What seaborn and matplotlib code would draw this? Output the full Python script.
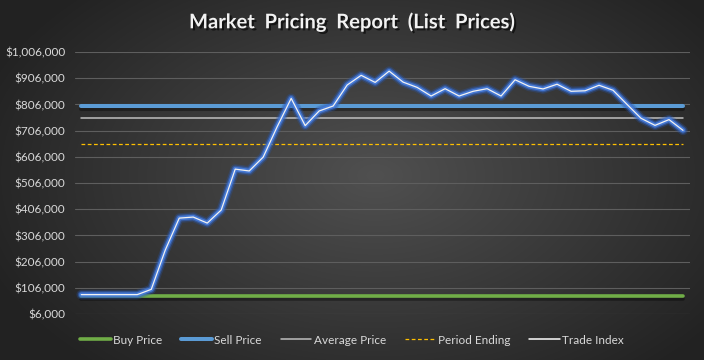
import numpy as np
import pandas as pd
import matplotlib
matplotlib.use("Agg")
import matplotlib.pyplot as plt
import matplotlib.patheffects as pe
from matplotlib.lines import Line2D
from matplotlib.ticker import FuncFormatter
import seaborn as sns

# ---- data ----
periods = list(range(44))
trade_index = [80000, 80000, 80000, 80000, 80000, 100000, 250000, 372000, 376000, 353000,
               403000, 559000, 552000, 605000, 721000, 829000, 725000, 781000, 800000, 880000,
               917000, 890000, 933000, 891000, 871000, 838000, 866000, 838000, 856000, 866000,
               838000, 900000, 875000, 865000, 883000, 856000, 858000, 879000, 860000, 806000,
               753000, 726000, 748000, 707000]
buy_price = 75000
sell_price = 801000
average_price = 756000
period_ending = 653000
y_ticks = [6000, 106000, 206000, 306000, 406000, 506000, 606000, 706000, 806000, 906000, 1006000]
title = "Market  Pricing  Report  (List  Prices)"
labels = ["Buy Price", "Sell Price", "Average Price", "Period Ending", "Trade Index"]

n = len(periods)
df = pd.DataFrame({
    "period": periods,
    "Buy Price": [buy_price] * n,
    "Sell Price": [sell_price] * n,
    "Average Price": [average_price] * n,
    "Period Ending": [period_ending] * n,
    "Trade Index": trade_index,
})

sns.set_theme(style="dark")
plt.rcParams["font.family"] = ["Lato", "DejaVu Sans"]

fig = plt.figure(figsize=(7.04, 3.60), dpi=100)

# radial gradient background
bg = fig.add_axes([0, 0, 1, 1], zorder=-10)
yy, xx = np.mgrid[0:360, 0:704]
r = np.sqrt(((xx - 375) / 420.0) ** 2 + ((yy - 175) / 260.0) ** 2)
r = np.clip(r, 0, 1)
c_in = np.array([0x50, 0x50, 0x50]) / 255.0
c_out = np.array([0x22, 0x22, 0x22]) / 255.0
img = c_in[None, None, :] * (1 - r[..., None]) + c_out[None, None, :] * r[..., None]
bg.imshow(img, aspect="auto", extent=[0, 1, 0, 1], origin="upper")
bg.axis("off")

ax = fig.add_axes([75 / 704, 1 - 314 / 360, (690 - 75) / 704, (314 - 52) / 360])
ax.set_facecolor("none")

shadow = [pe.SimpleLineShadow(offset=(0, -2.5), shadow_color="black", alpha=0.35), pe.Normal()]

sns.lineplot(data=df, x="period", y="Buy Price", ax=ax, color="#70ad47", linewidth=2.6,
             path_effects=shadow, zorder=3)
sns.lineplot(data=df, x="period", y="Sell Price", ax=ax, color="#5b9bd5", linewidth=2.9,
             path_effects=shadow, zorder=3)
sns.lineplot(data=df, x="period", y="Average Price", ax=ax, color="#bfbfbf", linewidth=1.1, zorder=3)
sns.lineplot(data=df, x="period", y="Period Ending", ax=ax, color="#ffc000", linewidth=0.9,
             zorder=3).lines[-1].set_dashes([3, 2])
glow = [pe.Stroke(linewidth=7, foreground="#2a55a8", alpha=0.3),
        pe.Stroke(linewidth=5, foreground="#3468c8", alpha=0.55),
        pe.Stroke(linewidth=3.2, foreground="#4a80e0", alpha=0.85),
        pe.Normal()]
sns.lineplot(data=df, x="period", y="Trade Index", ax=ax, color="#f2f2f2", linewidth=0.9,
             path_effects=glow, zorder=4)

ax.set_xlim(-0.45, 43.5)
ax.set_ylim(6000, 1006000)
ax.set_yticks(y_ticks)
ax.yaxis.set_major_formatter(FuncFormatter(lambda v, p: "${:,.0f}".format(v)))
ax.set_xticks([])
ax.set_xlabel("")
ax.set_ylabel("")
ax.grid(axis="y", color="#5e5e5e", linewidth=0.8)
ax.grid(axis="x", visible=False)
for s in ax.spines.values():
    s.set_visible(False)
ax.tick_params(axis="y", colors="#d9d9d9", labelsize=8.5, length=0, pad=7)

fig.text(0.5, 1 - 22 / 360, title, ha="center", va="center", color="#f2f2f2",
         fontsize=14.5, fontweight="bold",
         path_effects=[pe.withSimplePatchShadow(offset=(1.5, -1.5), shadow_rgbFace="black", alpha=0.6)])

handles = [
    Line2D([], [], color="#70ad47", linewidth=2.6),
    Line2D([], [], color="#5b9bd5", linewidth=2.9),
    Line2D([], [], color="#bfbfbf", linewidth=1.1),
    Line2D([], [], color="#ffc000", linewidth=0.9, dashes=[3, 2]),
    Line2D([], [], color="#ffffff", linewidth=1.1),
]
leg = fig.legend(handles, labels, loc="center", bbox_to_anchor=(0.5, 1 - 340 / 360), ncol=5,
                 frameon=False, fontsize=8.5, labelcolor="#d9d9d9", handlelength=2.6,
                 handletextpad=0.2, columnspacing=1.6)

fig.savefig("out.png", dpi=100)
